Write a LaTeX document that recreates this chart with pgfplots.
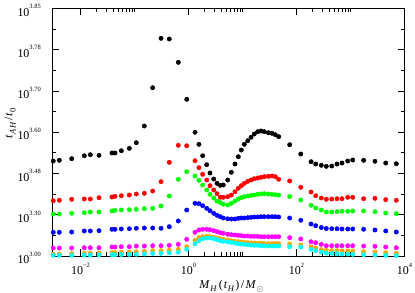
\documentclass[border=0pt]{standalone}
\usepackage{fontspec}
\setmainfont{Liberation Serif}
\usepackage{pgfplots}
\usepackage{pgfplotstable}
\pgfplotsset{compat=1.18}
\definecolor{cgreen}{RGB}{0,255,0}
\definecolor{corange}{RGB}{255,165,0}
\definecolor{ccyan}{RGB}{0,255,255}
\definecolor{cmag}{RGB}{255,0,255}
\definecolor{cred}{RGB}{255,0,0}
\definecolor{cblue}{RGB}{0,0,255}
\newcommand{\tl}[1]{\fontsize{12}{12}\selectfont 10\raisebox{0.62em}{\fontsize{6.5}{6.5}\selectfont #1}}
\newcommand{\sub}[1]{\raisebox{-0.28em}{\fontsize{8.5}{8.5}\selectfont #1}}

\pgfplotstableread{
x       k    r    g    b    m    o    c
3.13e-3 3301 2339 2017 1574 1194 1048 1017
4.05e-3 3318 2349 2017 1574 1194 1048 1017
6.87e-3 3357 2373 2034 1581 1194 1056 1019
1.175e-2 3429 2381 2049 1606 1201 1065 1024
1.52e-2 3454 2381 2066 1606 1201 1065 1024
2.20e-2 3439 2412 2066 1613 1201 1073 1029
3.83e-2 3495 2429 2090 1647 1218 1080 1031
4.35e-2 3495 2446 2107 1647 1218 1080 1031
5.70e-2 3550 2460 2114 1654 1225 1090 1036
8.02e-2 3608 2477 2121 1661 1225 1097 1041
0.108 3744 2502 2131 1671 1242 1104 1044
0.152 4149 2519 2146 1678 1242 1114 1048
0.217 5076 2574 2155 1678 1249 1128 1061
0.310 6273 2800 2211 1671 1249 1128 1065
0.441 6256 3269 2453 1710 1259 1138 1073
0.647 5691 3681 2858 1848 1283 1162 1090
0.927 4795 3671 3042 2114 1404 1225 1162
1.32 3996 3308 2938 2276 1574 1380 1298
1.56 3705 3139 2833 2267 1630 1443 1371
1.83 3429 2979 2720 2218 1647 1467 1419
2.17 3211 2841 2599 2155 1647 1477 1436
2.50 3010 2703 2494 2097 1637 1467 1436
2.93 2865 2599 2405 2034 1613 1453 1419
3.37 2761 2509 2332 1986 1589 1436 1395
3.88 2712 2422 2291 1952 1564 1419 1371
4.41 2720 2422 2252 1920 1550 1404 1356
5.32 2841 2436 2235 1901 1528 1388 1339
6.21 3027 2477 2276 1896 1516 1371 1332
7.26 3228 2557 2332 1896 1509 1356 1315
8.36 3405 2640 2381 1913 1501 1346 1298
9.50 3567 2703 2412 1920 1492 1339 1291
10.8 3705 2761 2436 1920 1484 1332 1283
12.5 3792 2809 2453 1928 1484 1322 1274
14.4 3875 2841 2470 1937 1477 1315 1266
16.5 3955 2872 2477 1945 1477 1315 1259
19.1 4011 2889 2494 1945 1477 1308 1259
22.0 4028 2906 2502 1952 1467 1308 1249
25.3 4011 2921 2509 1952 1467 1298 1249
30.1 3986 2930 2502 1952 1467 1298 1242
35.2 3972 2938 2494 1952 1467 1298 1242
40.5 3938 2921 2485 1952 1467 1298 1242
46.8 3890 2858 2477 1945 1467 1298 1242
74.8 3696 2817 2441 1920 1443 1291 1225
120 3470 2664 2356 1865 1412 1266 1218
186 3284 2550 2228 1775 1346 1218 1162
227 3228 2460 2163 1734 1322 1194 1128
288 3197 2405 2114 1690 1283 1153 1097
356 3172 2373 2066 1666 1249 1138 1073
449 3180 2381 2066 1661 1249 1128 1065
562 3228 2388 2073 1661 1249 1128 1056
696 3252 2388 2083 1654 1249 1121 1048
888 3301 2422 2083 1654 1249 1121 1048
1100 3325 2422 2090 1654 1249 1121 1041
1750 3318 2388 2090 1649 1242 1104 1031
2840 3294 2397 2073 1630 1235 1097 1024
4490 3252 2364 2041 1606 1218 1080 1017
7050 3235 2349 2024 1581 1201 1065 1007
}\datatable

\begin{document}
\begin{tikzpicture}
\useasboundingbox (-52bp,-37bp) rectangle (363bp,256bp);
\begin{axis}[
  at={(0,0)}, anchor=south west,
  scale only axis, width=352.5bp, height=247.7bp,
  xmode=log, xmin=2.965e-3, xmax=1e4,
  ymin=1000, ymax=7000,
  clip=false,
  xtick={1e-2,1,1e2,1e4},
  xticklabels={\tl{−2},\tl{0},\tl{2},\tl{4}},
  minor xtick={0.02,0.03,0.04,0.05,0.06,0.07,0.08,0.09,0.1,2,3,4,5,6,7,8,9,10,200,300,400,500,600,700,800,900,1000},
  ytick={1000,2000,3000,4000,5000,6000,7000},
  yticklabels={\tl{3.00},\tl{3.30},\tl{3.48},\tl{3.60},\tl{3.70},\tl{3.78},\tl{3.85}},
  minor ytick={1500,2500,3500,4500,5500,6500},
  tick align=inside,
  xtick pos=both, ytick pos=both,
  major tick length=7bp, minor tick length=4bp,
  every tick/.style={black, line width=0.6bp},
  axis line style={black, line width=0.8bp},
  yticklabel style={anchor=east, inner sep=0pt, xshift=-11bp, yshift=-2bp},
  xticklabel style={anchor=north, inner sep=0pt, yshift=-7bp},
  every axis x label/.style={at={(axis description cs:0.5,0)}, anchor=base, xshift=3bp, yshift=-32bp},
  every axis y label/.style={at={(axis description cs:-0.119,0.537)}, rotate=90, anchor=center},
  xlabel={\fontsize{12}{12}\selectfont\textit{M}\kern0.5bp\sub{\textit{H}}\kern2bp(\kern1bp\textit{t}\kern0.5bp\sub{\textit{H}}\kern1bp)\kern1.5bp/\kern1.5bp\textit{M}\kern0.5bp\sub{$\odot$}},
  ylabel={\fontsize{12}{12}\selectfont\textit{t}\kern0.5bp\sub{\textit{AH}}\kern1.5bp/\kern1.5bp\textit{t}\kern0.5bp\sub{0}},
  every axis plot/.append style={only marks, mark=*, mark size=2.2bp},
]
\addplot[black, mark options={fill=black}] table[x=x,y=k]{\datatable};
\addplot[cred, mark options={fill=cred}] table[x=x,y=r]{\datatable};
\addplot[cgreen, mark options={fill=cgreen}] table[x=x,y=g]{\datatable};
\addplot[cblue, mark options={fill=cblue}] table[x=x,y=b]{\datatable};
\addplot[cmag, mark options={fill=cmag}] table[x=x,y=m]{\datatable};
\addplot[corange, mark options={fill=corange}] table[x=x,y=o]{\datatable};
\addplot[ccyan, mark options={fill=ccyan}] table[x=x,y=c]{\datatable};
\end{axis}
\end{tikzpicture}
\end{document}
